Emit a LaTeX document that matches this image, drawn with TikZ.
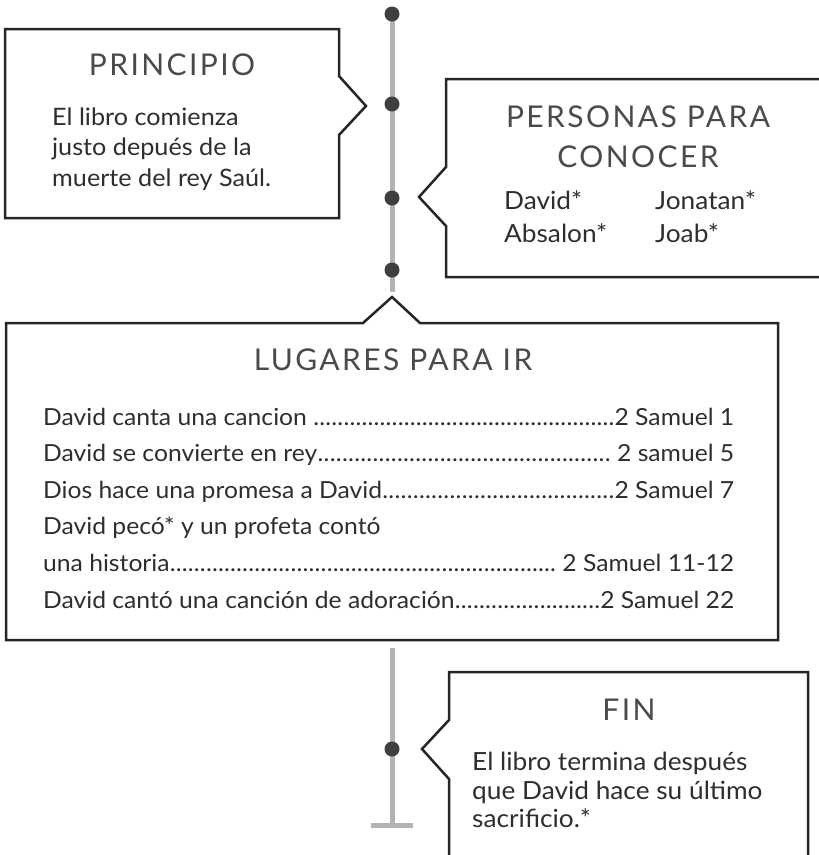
\documentclass[tikz,border=0pt]{standalone}
\usepackage{fontspec}
\setmainfont{Lato}[FakeStretch=1.05]
\newfontfamily\headfont{Lato}[LetterSpace=8]
\definecolor{boxc}{HTML}{262626}
\definecolor{linec}{HTML}{B3B3B3}
\definecolor{dotc}{HTML}{3F3F3F}
\definecolor{headc}{HTML}{4A4A4A}
\definecolor{bodyc}{HTML}{2E2E2E}
\newcommand\dotlead{\xleaders\hbox to 6pt{\hss.\hss}\hfill}
\newcommand\entry[2]{\hbox to 691pt{#1\dotlead #2}}
\begin{document}
\begin{tikzpicture}[x=1pt,y=-1pt,
  box/.style={draw=boxc, line width=2.5pt, fill=white, line join=miter},
  tl/.style={draw=linec, line width=5pt},
  tdot/.style={circle, fill=dotc, inner sep=0pt, minimum size=15pt},
  head/.style={font=\headfont\fontsize{30}{34}\selectfont, text=headc, inner sep=0pt, anchor=base},
  body/.style={font=\fontsize{24}{30}\selectfont, text=bodyc, inner sep=0pt, anchor=base west},
  pbody/.style={body, font=\fontsize{24}{30}\selectfont},
  qbody/.style={body, font=\fontsize{25}{30}\selectfont},
  lbody/.style={body, font=\fontsize{23.5}{30}\selectfont},
  fbody/.style={body, font=\fontsize{25}{30}\selectfont},
]
\useasboundingbox (0,0) rectangle (819,855);
\clip (0,0) rectangle (819,855);
\fill[white] (0,0) rectangle (819,855);

% timeline upper
\coordinate (tTop) at (392,14);
\coordinate (tEnd) at (392,292);
\draw[tl] (tTop) -- (tEnd);
\node[tdot] (d1) at (392,14) {};
\node[tdot] (d2) at (392,104) {};
\node[tdot] (d3) at (392,198) {};
\node[tdot] (d4) at (392,270) {};

% timeline lower
\coordinate (bTop) at (392,648);
\coordinate (bEnd) at (392,825);
\coordinate (barL) at (371,825.5);
\coordinate (barR) at (413,825.5);
\draw[tl] (bTop) -- (bEnd);
\draw[tl] (barL) -- (barR);
\node[tdot] (d5) at (392,749) {};

% PRINCIPIO box
\draw[box] (5,29) -- (339,29) -- (339,76) -- (366,106) -- (339,135) -- (339,218) -- (5,218) -- cycle;
\node[head] (h1) at (172,75) {PRINCIPIO};
\node[pbody] (p1) at (52,125) {El libro comienza};
\node[pbody] (p2) at (52,155.5) {justo depués de la};
\node[pbody] (p3) at (52,186) {muerte del rey Saúl.};

% PERSONAS box
\draw[box] (830,79) -- (446,79) -- (446,167) -- (419,197) -- (446,226) -- (446,277) -- (830,277);
\node[head] (h2a) at (638,127) {PERSONAS PARA};
\node[head] (h2b) at (638,167) {CONOCER};
\node[qbody] (q1) at (504,209) {David*};
\node[qbody] (q2) at (504,242) {Absalon*};
\node[qbody] (q3) at (655,209) {Jonatan*};
\node[qbody] (q4) at (655,242) {Joab*};

% LUGARES box
\draw[box] (6,323) -- (363,323) -- (392,297) -- (420,323) -- (778,323) -- (778,640) -- (6,640) -- cycle;
\node[head] (h3) at (393,370) {LUGARES PARA IR};
\node[lbody] (l1) at (43,425) {\entry{David canta una cancion\ }{2 Samuel 1}};
\node[lbody] (l2) at (43,461.6) {\entry{David se convierte en rey}{\ 2 samuel 5}};
\node[lbody] (l3) at (43,498.2) {\entry{Dios hace una promesa a David}{2 Samuel 7}};
\node[lbody] (l4) at (43,534.8) {David pecó* y un profeta contó};
\node[lbody] (l5) at (43,571.4) {\entry{una historia}{\ 2 Samuel 11-12}};
\node[lbody] (l6) at (43,608) {\entry{David cantó una canción de adoración}{2 Samuel 22}};

% FIN box
\draw[box] (449,870) -- (449,779) -- (422,749) -- (449,720) -- (449,672) -- (808,672) -- (808,870);
\node[head] (h4) at (629,720) {FIN};
\node[fbody] (f1) at (472,770) {El libro termina después};
\node[fbody] (f2) at (472,799) {que David hace su último};
\node[fbody] (f3) at (472,827) {sacrificio.*};
\end{tikzpicture}
\end{document}
